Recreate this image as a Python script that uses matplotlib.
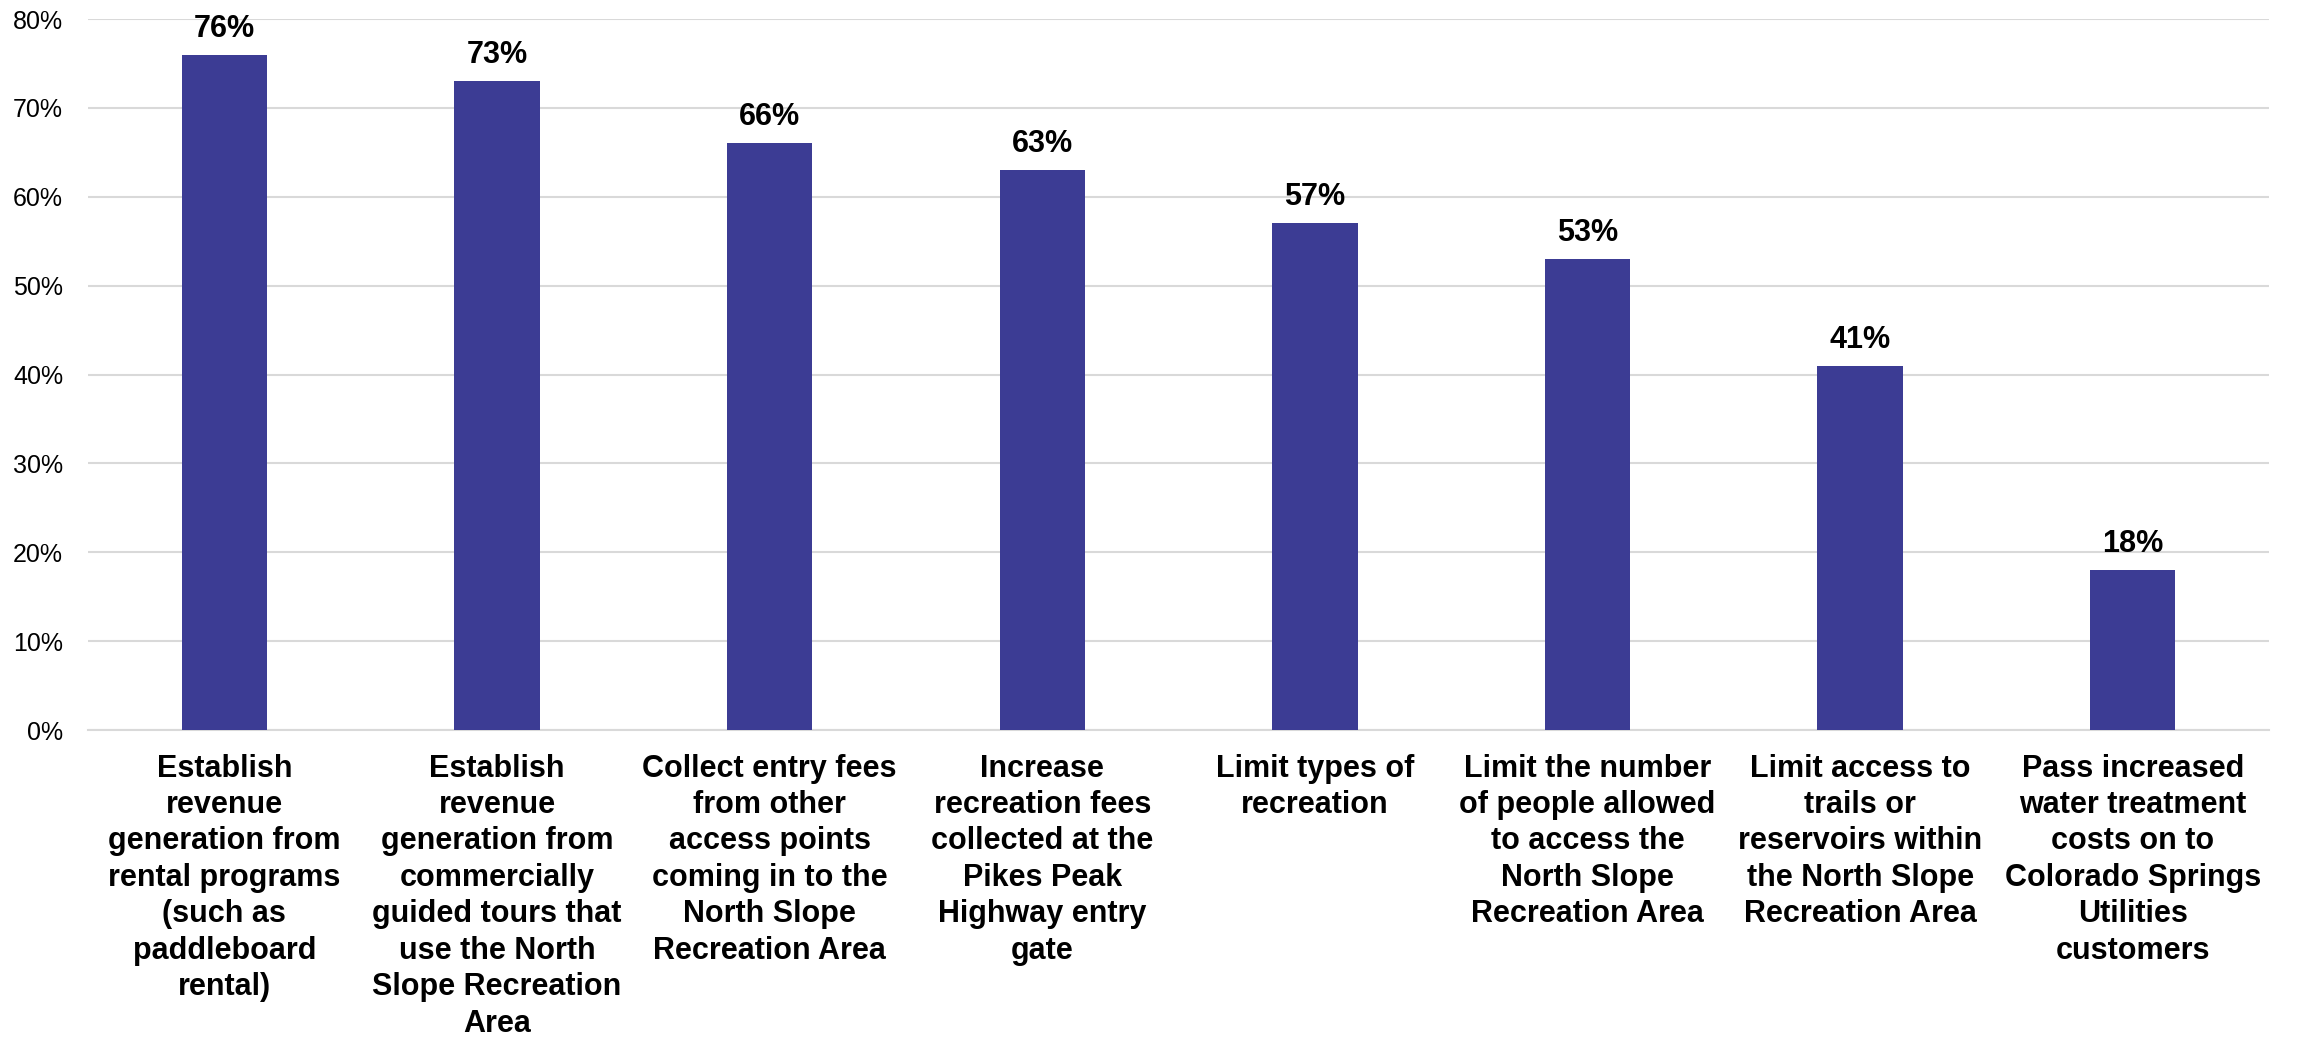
import matplotlib
matplotlib.use("Agg")
import matplotlib.pyplot as plt
from matplotlib.ticker import FuncFormatter, MultipleLocator

categories = [
    "Establish\nrevenue\ngeneration from\nrental programs\n(such as\npaddleboard\nrental)",
    "Establish\nrevenue\ngeneration from\ncommercially\nguided tours that\nuse the North\nSlope Recreation\nArea",
    "Collect entry fees\nfrom other\naccess points\ncoming in to the\nNorth Slope\nRecreation Area",
    "Increase\nrecreation fees\ncollected at the\nPikes Peak\nHighway entry\ngate",
    "Limit types of\nrecreation",
    "Limit the number\nof people allowed\nto access the\nNorth Slope\nRecreation Area",
    "Limit access to\ntrails or\nreservoirs within\nthe North Slope\nRecreation Area",
    "Pass increased\nwater treatment\ncosts on to\nColorado Springs\nUtilities\ncustomers",
]
values = [76, 73, 66, 63, 57, 53, 41, 18]

plt.rcParams["font.family"] = ["Liberation Sans", "DejaVu Sans"]

fig = plt.figure(figsize=(22.98, 10.39), dpi=100)
ax = fig.add_axes([0.0383, 0.2974, 0.9491, 0.6843])

x = list(range(len(values)))
bars = ax.bar(x, values, width=0.313, color="#3C3C94", zorder=3)

for xi, v in zip(x, values):
    ax.annotate(f"{v}%", (xi, v), xytext=(0, 13), textcoords="offset points",
                ha="center", va="baseline", fontsize=22, fontweight="bold",
                color="#000000")

ax.set_xlim(-0.5, len(values) - 0.5)
ax.set_ylim(0, 80)
ax.yaxis.set_major_locator(MultipleLocator(10))
ax.yaxis.set_major_formatter(FuncFormatter(lambda v, _: f"{v:.0f}%"))
ax.grid(axis="y", color="#D9D9D9", linewidth=1.5, zorder=0)
ax.set_axisbelow(True)

for side in ("left", "right", "top"):
    ax.spines[side].set_visible(False)
ax.spines["bottom"].set_color("#D9D9D9")
ax.spines["bottom"].set_linewidth(1.5)

ax.set_xticks(x)
ax.set_xticklabels(categories, fontsize=22, fontweight="bold",
                   linespacing=1.28, ha="center", va="top")
ax.tick_params(axis="x", length=0, pad=17)
ax.tick_params(axis="y", length=0, pad=18, labelsize=18, labelcolor="#000000")

fig.savefig("out.png", dpi=100, facecolor="white")
